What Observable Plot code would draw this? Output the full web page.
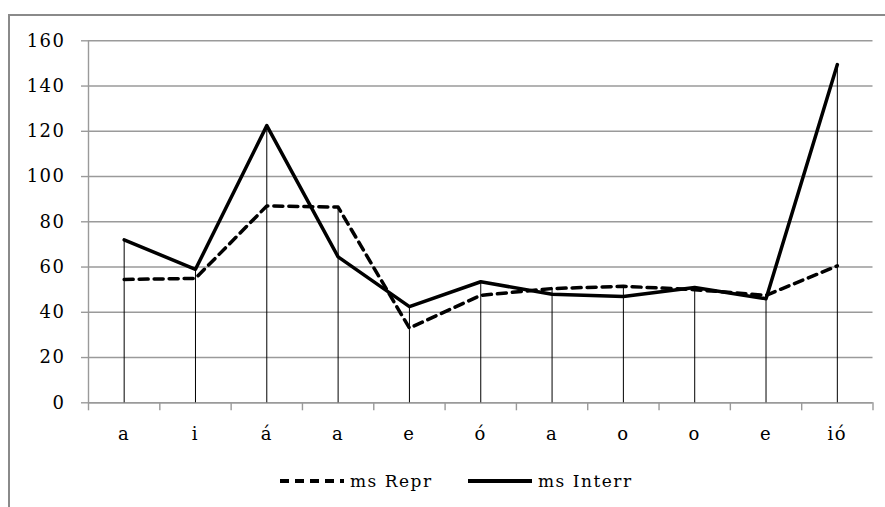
<!DOCTYPE html>
<html>
<head>
<meta charset="utf-8">
<script src="https://cdn.jsdelivr.net/npm/d3@7"></script>
<script src="https://cdn.jsdelivr.net/npm/@observablehq/plot@0.6"></script>
<style>
  html, body { margin: 0; padding: 0; background: #fff; overflow: hidden; }
  #wrap { position: relative; width: 885px; height: 507px; overflow: hidden; background: #fff; }
  #frame { position: absolute; left: 8px; top: 14px; width: 900px; height: 600px; border: 2px solid #8a8a8a; pointer-events: none; z-index: 2; }
  #chart { position: absolute; left: 0; top: 0; }
  #chart svg text { letter-spacing: 1.5px; }
  #legend { position: absolute; left: 0; top: 466px; width: 885px; height: 30px; font-family: "DejaVu Serif", serif; font-size: 17px; letter-spacing: 1.5px; color: #000; }
  .item { position: absolute; top: 0; height: 30px; display: flex; align-items: center; }
  .item svg { display: block; margin-right: 6px; }
</style>
</head>
<body>
<div id="wrap">
  <div id="chart"></div>
  <div id="legend"></div>
  <div id="frame"></div>
</div>
<script>
const categories = ["a", "i", "á", "a", "e", "ó", "a", "o", "o", "e", "ió"];
const msRepr   = [54.5, 55, 87, 86.5, 33, 47.5, 50.5, 51.5, 50, 47.5, 60.5];
const msInterr = [72, 59, 122.5, 64.5, 42.5, 53.5, 48, 47, 51, 46, 149.5];
const yTicks = [0, 20, 40, 60, 80, 100, 120, 140, 160];
const seriesNames = ["ms Repr", "ms Interr"];

const idx = d3.range(categories.length);
const bounds = d3.range(categories.length + 1).map(i => i - 0.5);

const gray = "#9a9a9a";

const plot = Plot.plot({
  width: 885,
  height: 455,
  marginLeft: 88,
  marginRight: 12.5,
  marginTop: 40.3,
  marginBottom: 52.7,
  style: { fontFamily: "DejaVu Serif, serif", fontSize: "18px", color: "#000", background: "transparent" },
  x: { type: "linear", domain: [-0.5, categories.length - 0.5] },
  y: { type: "linear", domain: [0, 160] },
  marks: [
    Plot.gridY(yTicks, { stroke: gray, strokeOpacity: 1, strokeWidth: 1.4 }),
    Plot.axisY(yTicks, { tickSize: 7, tickPadding: 16, stroke: gray, strokeOpacity: 1, strokeWidth: 1.4, label: null, fill: "#000" }),
    Plot.axisX(bounds, { tickSize: 8, tickFormat: () => "", stroke: gray, strokeOpacity: 1, strokeWidth: 1.4, label: null }),
    Plot.axisX(idx, { tickSize: 0, tickPadding: 24, tickFormat: i => categories[i], label: null, fill: "#000" }),
    Plot.ruleX([-0.5], { y1: 0, y2: 160, stroke: gray, strokeWidth: 1.4 }),
    Plot.ruleY([0], { stroke: gray, strokeWidth: 1.4 }),
    Plot.ruleX(idx, { x: i => i, y1: 0, y2: i => Math.max(msRepr[i], msInterr[i]), stroke: "#000", strokeWidth: 1 }),
    Plot.line(idx, { x: i => i, y: i => msRepr[i], stroke: "#000", strokeWidth: 3.5, strokeDasharray: "9,6", strokeLinejoin: "round" }),
    Plot.line(idx, { x: i => i, y: i => msInterr[i], stroke: "#000", strokeWidth: 3.5, strokeLinejoin: "round" })
  ]
});
document.getElementById("chart").appendChild(plot);

// Legend
const legend = document.getElementById("legend");
const legendItems = [
  { name: seriesNames[0], dash: "9,6", left: 280 },
  { name: seriesNames[1], dash: null, left: 468 }
];
for (const it of legendItems) {
  const div = document.createElement("div");
  div.className = "item";
  div.style.left = it.left + "px";
  const s = d3.create("svg").attr("width", 64).attr("height", 10);
  s.append("line").attr("x1", 0).attr("x2", 64).attr("y1", 5).attr("y2", 5)
    .attr("stroke", "#000").attr("stroke-width", 4)
    .attr("stroke-dasharray", it.dash);
  div.appendChild(s.node());
  const span = document.createElement("span");
  span.textContent = it.name;
  div.appendChild(span);
  legend.appendChild(div);
}
</script>
</body>
</html>
